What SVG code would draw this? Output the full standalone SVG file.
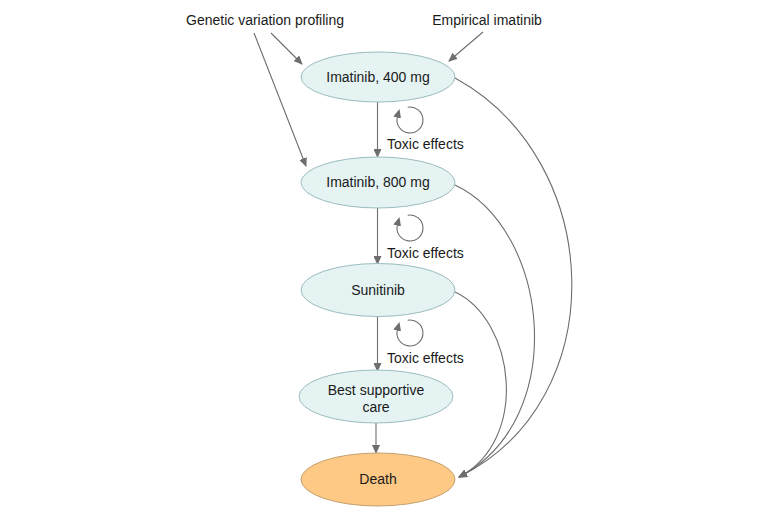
<svg xmlns="http://www.w3.org/2000/svg" width="780" height="526" viewBox="0 0 780 526">
<style>
text{font-family:"Liberation Sans",Arial,sans-serif;font-size:14px;fill:#1a1a1a}
.c{text-anchor:middle}
.n{fill:#e5f3f3;stroke:#9bbcbf;stroke-width:1}
.d{fill:#fdc985;stroke:#c4a172;stroke-width:1}
.e{fill:none;stroke:#6e6e6e;stroke-width:1.1}
</style>
<defs>
<marker id="ah" markerWidth="9" markerHeight="8" refX="8" refY="4" orient="auto" markerUnits="userSpaceOnUse">
<path d="M0,0 L9,4 L0,8 Z" fill="#6e6e6e"/>
</marker>
<marker id="lh" markerWidth="9" markerHeight="8" refX="1" refY="4" orient="auto" markerUnits="userSpaceOnUse">
<path d="M0,0 L9,4 L0,8 Z" fill="#6e6e6e"/>
</marker>
</defs>
<rect width="780" height="526" fill="#ffffff"/>
<g id="labels">
<text x="265" y="25" class="c">Genetic variation profiling</text>
<text x="487" y="25" class="c">Empirical imatinib</text>
<text x="387" y="149">Toxic effects</text>
<text x="387" y="258">Toxic effects</text>
<text x="387" y="363">Toxic effects</text>
</g>
<g id="connectors">
<path class="e" d="M271,33 L302,64" marker-end="url(#ah)"/>
<path class="e" d="M254,33 L306,166" marker-end="url(#ah)"/>
<path class="e" d="M483,32 L449,61" marker-end="url(#ah)"/>
<path class="e" d="M377.5,102 L377.5,157" marker-end="url(#ah)"/>
<path class="e" d="M377.5,208 L377.5,264" marker-end="url(#ah)"/>
<path class="e" d="M377.5,317 L377.5,371" marker-end="url(#ah)"/>
<path class="e" d="M376,423 L376,453" marker-end="url(#ah)"/>
<path class="e" d="M407.7,107.2 A13,13 0 1 1 397.4,116.6" marker-end="url(#lh)"/>
<path class="e" d="M407.7,215.2 A13,13 0 1 1 397.4,224.6" marker-end="url(#lh)"/>
<path class="e" d="M407.7,320.2 A13,13 0 1 1 397.4,329.6" marker-end="url(#lh)"/>
<path class="e" d="M455,78 C605,160 615,400 459,477" marker-end="url(#ah)"/>
<path class="e" d="M455,185 C550,230 570,420 459,477" marker-end="url(#ah)"/>
<path class="e" d="M455,292 C515,320 530,440 459,477" marker-end="url(#ah)"/>
</g>
<g id="n1"><ellipse class="n" cx="378" cy="77" rx="77" ry="25"/><text x="378" y="82" class="c">Imatinib, 400 mg</text></g>
<g id="n2"><ellipse class="n" cx="378" cy="182.5" rx="77" ry="25.5"/><text x="378" y="187" class="c">Imatinib, 800 mg</text></g>
<g id="n3"><ellipse class="n" cx="378" cy="290" rx="77" ry="26.5"/><text x="378" y="295" class="c">Sunitinib</text></g>
<g id="n4"><ellipse class="n" cx="376" cy="396.5" rx="77" ry="26.5"/><text x="376" y="395" class="c">Best supportive</text><text x="376" y="412" class="c">care</text></g>
<g id="n5"><ellipse class="d" cx="378" cy="479.5" rx="77" ry="26.5"/><text x="378" y="484" class="c">Death</text></g>
</svg>
